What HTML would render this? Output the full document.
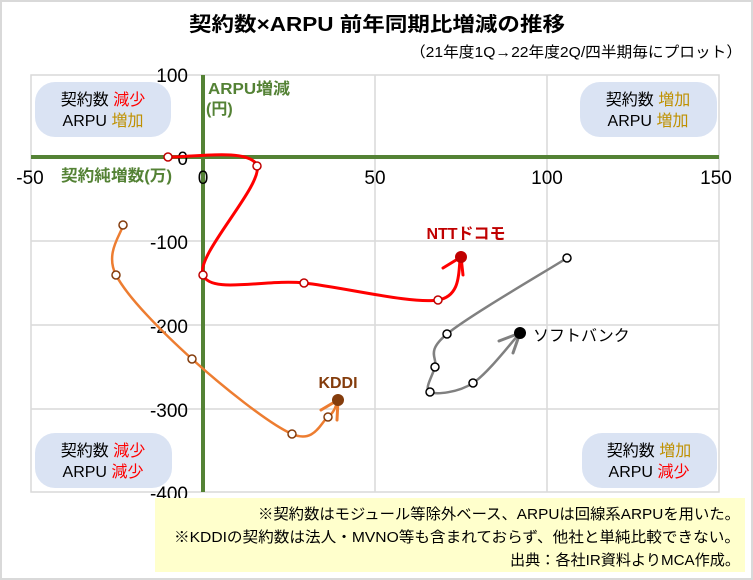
<!DOCTYPE html>
<html><head><meta charset="utf-8"><style>
body{margin:0;background:#fff}
svg{display:block;font-family:"Liberation Sans","Noto Sans CJK JP",sans-serif}
</style></head><body>
<svg width="753" height="580" viewBox="0 0 753 580" xmlns="http://www.w3.org/2000/svg">
<rect x="1" y="1" width="751" height="578" fill="#fff" stroke="#d9d9d9" stroke-width="2"/>
<text x="377" y="31" text-anchor="middle" font-size="20" font-weight="bold" fill="#000" textLength="376" lengthAdjust="spacingAndGlyphs">契約数×ARPU 前年同期比増減の推移</text>
<text x="742" y="57" text-anchor="end" font-size="15" fill="#000" textLength="332" lengthAdjust="spacingAndGlyphs">（21年度1Q→22年度2Q/四半期毎にプロット）</text>
<g stroke="#d9d9d9" stroke-width="1.5" fill="none">
<rect x="31" y="75" width="688" height="417"/>
<line x1="375" y1="75" x2="375" y2="492"/><line x1="547" y1="75" x2="547" y2="492"/>
<line x1="31" y1="241" x2="719" y2="241"/><line x1="31" y1="325" x2="719" y2="325"/><line x1="31" y1="409" x2="719" y2="409"/>
</g>
<g fill="#dae3f3">
<rect x="35" y="82" width="136" height="55" rx="20"/>
<rect x="580" y="82" width="137" height="55" rx="20"/>
<rect x="35" y="433" width="137" height="55" rx="20"/>
<rect x="582" y="433" width="135" height="55" rx="20"/>
</g>
<g stroke="#548235" stroke-width="4"><line x1="31" y1="157" x2="719" y2="157"/><line x1="203" y1="75" x2="203" y2="492"/></g>
<g font-size="19" fill="#000" text-anchor="middle">
<text x="30" y="184">-50</text><text x="203" y="184">0</text><text x="375" y="184">50</text><text x="547" y="184">100</text><text x="716" y="184">150</text>
</g>
<g font-size="19" fill="#000" text-anchor="end">
<text x="188" y="82">100</text><text x="188" y="165">0</text><text x="188" y="249">-100</text><text x="188" y="333">-200</text><text x="188" y="417">-300</text><text x="188" y="500">-400</text>
</g>
<g font-size="16" font-weight="bold" fill="#548235">
<text x="208" y="94" textLength="82" lengthAdjust="spacingAndGlyphs">ARPU増減</text><text x="206" y="114">(円)</text>
<text x="61" y="181" textLength="111" lengthAdjust="spacingAndGlyphs">契約純増数(万)</text>
</g>
<g font-size="16" text-anchor="middle">
<text x="103" y="105"><tspan fill="#000">契約数 </tspan><tspan fill="#ff0000">減少</tspan></text>
<text x="103" y="126"><tspan fill="#000">ARPU </tspan><tspan fill="#bf9000">増加</tspan></text>
<text x="648" y="105"><tspan fill="#000">契約数 </tspan><tspan fill="#bf9000">増加</tspan></text>
<text x="648" y="126"><tspan fill="#000">ARPU </tspan><tspan fill="#bf9000">増加</tspan></text>
<text x="103" y="456"><tspan fill="#000">契約数 </tspan><tspan fill="#ff0000">減少</tspan></text>
<text x="103" y="477"><tspan fill="#000">ARPU </tspan><tspan fill="#ff0000">減少</tspan></text>
<text x="649" y="456"><tspan fill="#000">契約数 </tspan><tspan fill="#bf9000">増加</tspan></text>
<text x="649" y="477"><tspan fill="#000">ARPU </tspan><tspan fill="#ff0000">減少</tspan></text>
</g>
<path id="ntt" fill="none" stroke="#ff0000" stroke-width="3"/>
<path id="kddi" fill="none" stroke="#ed7d31" stroke-width="2.5"/>
<path id="sb" fill="none" stroke="#808080" stroke-width="2.5"/>
<g id="dots"></g>
<g stroke-width="3" fill="none" stroke-linecap="round">
<polyline points="443,268 461,257 463,275" stroke="#ff0000"/>
<polyline points="321,410 338,400 337,420" stroke="#ed7d31"/>
<polyline points="499,341 520,333 513,353" stroke="#808080"/>
</g>
<circle cx="461" cy="257" r="6" fill="#c00000"/>
<circle cx="338" cy="400" r="6" fill="#843c0c"/>
<circle cx="520" cy="333" r="6" fill="#000"/>
<text x="466" y="239" text-anchor="middle" font-size="16" font-weight="bold" fill="#c00000">NTTドコモ</text>
<text x="338" y="388" text-anchor="middle" font-size="16" font-weight="bold" fill="#843c0c">KDDI</text>
<text x="533" y="341" font-size="16" fill="#000">ソフトバンク</text>
<rect x="155" y="498" width="590" height="74" fill="#ffffcc"/>
<g font-size="15" fill="#000" text-anchor="end">
<text x="740" y="519" textLength="482" lengthAdjust="spacingAndGlyphs">※契約数はモジュール等除外ベース、ARPUは回線系ARPUを用いた。</text>
<text x="740" y="542" textLength="566" lengthAdjust="spacingAndGlyphs">※KDDIの契約数は法人・MVNO等も含まれておらず、他社と単純比較できない。</text>
<text x="740" y="565" textLength="230" lengthAdjust="spacingAndGlyphs">出典：各社IR資料よりMCA作成。</text>
</g>
</svg>
<script>
function cr(p){var d="M"+p[0][0]+","+p[0][1];for(var i=0;i<p.length-1;i++){var p0=p[i-1]||p[i],p1=p[i],p2=p[i+1],p3=p[i+2]||p2;var t=6;d+=" C"+(p1[0]+(p2[0]-p0[0])/t)+","+(p1[1]+(p2[1]-p0[1])/t)+" "+(p2[0]-(p3[0]-p1[0])/t)+","+(p2[1]-(p3[1]-p1[1])/t)+" "+p2[0]+","+p2[1];}return d;}
var ntt=[[168,157],[257,166],[203,275],[304,283],[438,300],[461,257]];
var kd=[[123,225],[116,275],[192,359],[292,434],[328,417],[338,400]];
var sb=[[567,258],[447,334],[435,367],[430,392],[473,383],[520,333]];
document.getElementById("ntt").setAttribute("d",cr(ntt));
document.getElementById("kddi").setAttribute("d",cr(kd));
document.getElementById("sb").setAttribute("d",cr(sb));
var g=document.getElementById("dots"),s="";
function dots(a,c){for(var i=0;i<a.length-1;i++)s+='<circle cx="'+a[i][0]+'" cy="'+a[i][1]+'" r="4" fill="#fff" stroke="'+c+'" stroke-width="1.5"/>';}
dots(ntt,"#c00000");dots(kd,"#843c0c");dots(sb,"#000");
g.innerHTML=s;
</script>
</body></html>
